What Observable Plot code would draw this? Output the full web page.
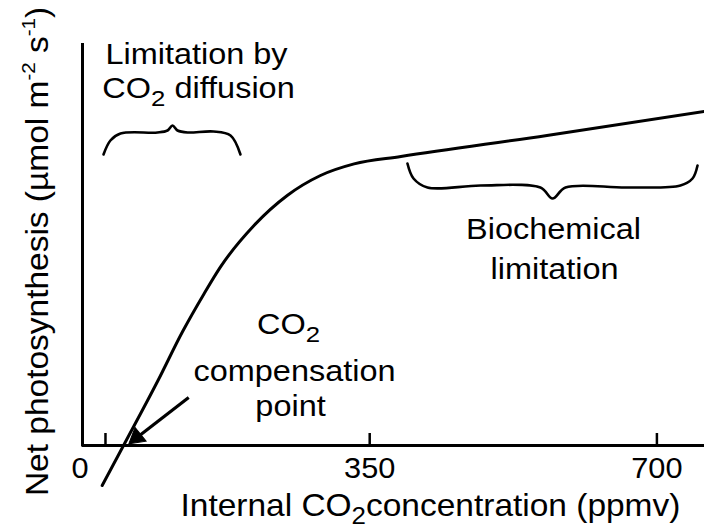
<!DOCTYPE html>
<html>
<head>
<meta charset="utf-8">
<script src="https://cdn.jsdelivr.net/npm/d3@7"></script>
<script src="https://cdn.jsdelivr.net/npm/@observablehq/plot@0.6"></script>
<style>
  html, body { margin: 0; padding: 0; background: #fff; }
</style>
</head>
<body>
<div id="chart"></div>
<script>
// ---- Data ----
// A/Ci response curve: internal CO2 (ppmv) vs. net photosynthesis (arbitrary units)
const ciPpm  = [24, 50, 92, 122, 148, 168, 209, 249.5, 290, 331, 388, 566, 758];
const netPs  = [-10, 0, 16.25, 28.5, 37.9, 44.6, 55, 62.5, 67.5, 70.4, 72.25, 77.5, 83.5];

// x-axis ticks and labels
const tickValues   = [28, 350, 700];
const labelValues  = [-3, 350, 700];
const labelTexts   = ["0", "350", "700"];

// left brace ("Limitation by CO2 diffusion")
const braceLeftX = [25.6, 34, 46.3, 91.4, 103.6, 109.7, 115.8, 128, 159.6, 180.4, 192.5];
const braceLeftY = [72.75, 76.25, 78, 78.25, 78.75, 80, 78.75, 78.25, 78.5, 77.5, 72.75];

// right brace ("Biochemical limitation")
const braceRightX = [396, 403.4, 420.4, 485, 558, 572.8, 588.6, 664, 728.7, 743.4, 749.5];
const braceRightY = [70.5, 66.75, 64.5, 65, 64.5, 61.75, 64.5, 64.5, 65, 66.75, 70];

// annotation texts
const annoText = ["Limitation by", "CO_{2} diffusion", "Biochemical", "limitation", "CO_{2}", "compensation", "point"];
const annoX    = [138.9, 141.4, 574, 575.2, 251, 258.4, 253.5];
const annoY    = [95.5, 87, 51.75, 41.75, 28, 16.25, 7.5];

// compensation point arrow (shaft start, shaft end, head centre, head rotation)
const arrowFrom = [129.4, 12];
const arrowTo   = [68, 2.25];
const arrowHead = [66, 2.0];
const arrowHeadAngle = 231;

// axis titles
const xTitle = "Internal CO_{2}concentration (ppmv)";
const yTitle = "Net photosynthesis (\u00b5mol m^{-2} s^{-1})";

// ---- Build tables ----
const curve = ciPpm.map((x, i) => ({x, y: netPs[i]}));
const braceL = braceLeftX.map((x, i) => ({x, y: braceLeftY[i]}));
const braceR = braceRightX.map((x, i) => ({x, y: braceRightY[i]}));
const annos = annoText.map((t, i) => ({t, x: annoX[i], y: annoY[i]}));
const tickLabs = labelValues.map((x, i) => ({x, t: labelTexts[i]}));

const FONT = "'Liberation Sans', Arial, Helvetica, sans-serif";

const chart = Plot.plot({
  width: 704,
  height: 529,
  marginLeft: 82,
  marginRight: 0,
  marginTop: 45,
  marginBottom: 44,
  style: {fontFamily: FONT, color: "#000", background: "#fff", overflow: "visible"},
  x: {domain: [0, 758], axis: null},
  y: {domain: [-10, 100], axis: null},
  marks: [
    // axes
    Plot.ruleY([0], {x1: 0, x2: 758, stroke: "#000", strokeWidth: 3}),
    Plot.ruleX([0], {y1: -0.4, y2: 100.5, stroke: "#000", strokeWidth: 3}),
    Plot.ruleX(tickValues, {y1: 0, y2: 3, stroke: "#000", strokeWidth: 2.5}),
    Plot.text(tickLabs, {x: "x", y: -8, text: "t", fontSize: 29, textAnchor: "middle", lineAnchor: "bottom", fill: "#000", ariaDescription: "ticklabels"}),
    // curve
    Plot.line(curve, {x: "x", y: "y", stroke: "#000", strokeWidth: 3, curve: "monotone-x"}),
    // braces
    Plot.line(braceL, {x: "x", y: "y", stroke: "#000", strokeWidth: 2.6, curve: "catmull-rom"}),
    Plot.line(braceR, {x: "x", y: "y", stroke: "#000", strokeWidth: 2.6, curve: "catmull-rom"}),
    // arrow: shaft + filled head
    Plot.link([{x1: arrowFrom[0], y1: arrowFrom[1], x2: arrowTo[0], y2: arrowTo[1]}],
      {x1: "x1", y1: "y1", x2: "x2", y2: "y2", stroke: "#000", strokeWidth: 3.2}),
    Plot.dot([{x: arrowHead[0], y: arrowHead[1]}],
      {x: "x", y: "y", symbol: "triangle", r: 6.5, rotate: arrowHeadAngle, fill: "#000", stroke: "#000", strokeWidth: 1}),
    // annotations
    Plot.text(annos, {x: "x", y: "y", text: "t", fontSize: 29, textAnchor: "middle", lineAnchor: "bottom", fill: "#000", ariaDescription: "annotations"}),
    // axis titles
    Plot.text([xTitle], {x: 424, y: -17.5, text: d => d, fontSize: 31, textAnchor: "middle", lineAnchor: "bottom", fill: "#000", ariaDescription: "xtitle"}),
    Plot.text([yTitle], {x: -42.65, y: 48.5, text: d => d, fontSize: 31, rotate: -90, textAnchor: "middle", lineAnchor: "bottom", fill: "#000", ariaDescription: "ytitle"})
  ]
});

document.getElementById("chart").appendChild(chart);

// ---- Rich text: subscripts / superscripts ----
function richify(el, subShift, supShift, scriptSize) {
  const s = el.textContent;
  if (!/[_^]\{/.test(s)) return;
  const parts = [];
  const re = /([_^])\{([^}]*)\}/g;
  let last = 0, m;
  while ((m = re.exec(s))) {
    if (m.index > last) parts.push({t: s.slice(last, m.index)});
    parts.push({t: m[2], kind: m[1]});
    last = re.lastIndex;
  }
  if (last < s.length) parts.push({t: s.slice(last)});
  el.textContent = "";
  const ns = "http://www.w3.org/2000/svg";
  let pending = 0;
  for (const p of parts) {
    const ts = document.createElementNS(ns, "tspan");
    ts.textContent = p.t;
    if (p.kind === "_") {
      ts.setAttribute("dy", subShift);
      ts.setAttribute("font-size", scriptSize);
      pending = -subShift;
    } else if (p.kind === "^") {
      ts.setAttribute("dy", -supShift);
      ts.setAttribute("font-size", scriptSize);
      pending = supShift;
    } else if (pending) {
      ts.setAttribute("dy", pending);
      pending = 0;
    }
    el.appendChild(ts);
  }
}
function stretch(sel, sx) {
  chart.querySelectorAll(sel).forEach(el => {
    const t = el.getAttribute("transform") || "";
    el.setAttribute("transform", (t + ` scale(${sx},1)`).trim());
  });
}
chart.querySelectorAll('g[aria-description="annotations"] text').forEach(el => richify(el, 8, 0, 23));
chart.querySelectorAll('g[aria-description="xtitle"] text').forEach(el => richify(el, 8, 0, 24));
chart.querySelectorAll('g[aria-description="ytitle"] text').forEach(el => richify(el, 0, 13, 19));
stretch('g[aria-description="annotations"] text', 1.12);
stretch('g[aria-description="ticklabels"] text', 1.06);
stretch('g[aria-description="xtitle"] text', 1.08);
stretch('g[aria-description="ytitle"] text', 1.08);
</script>
</body>
</html>
